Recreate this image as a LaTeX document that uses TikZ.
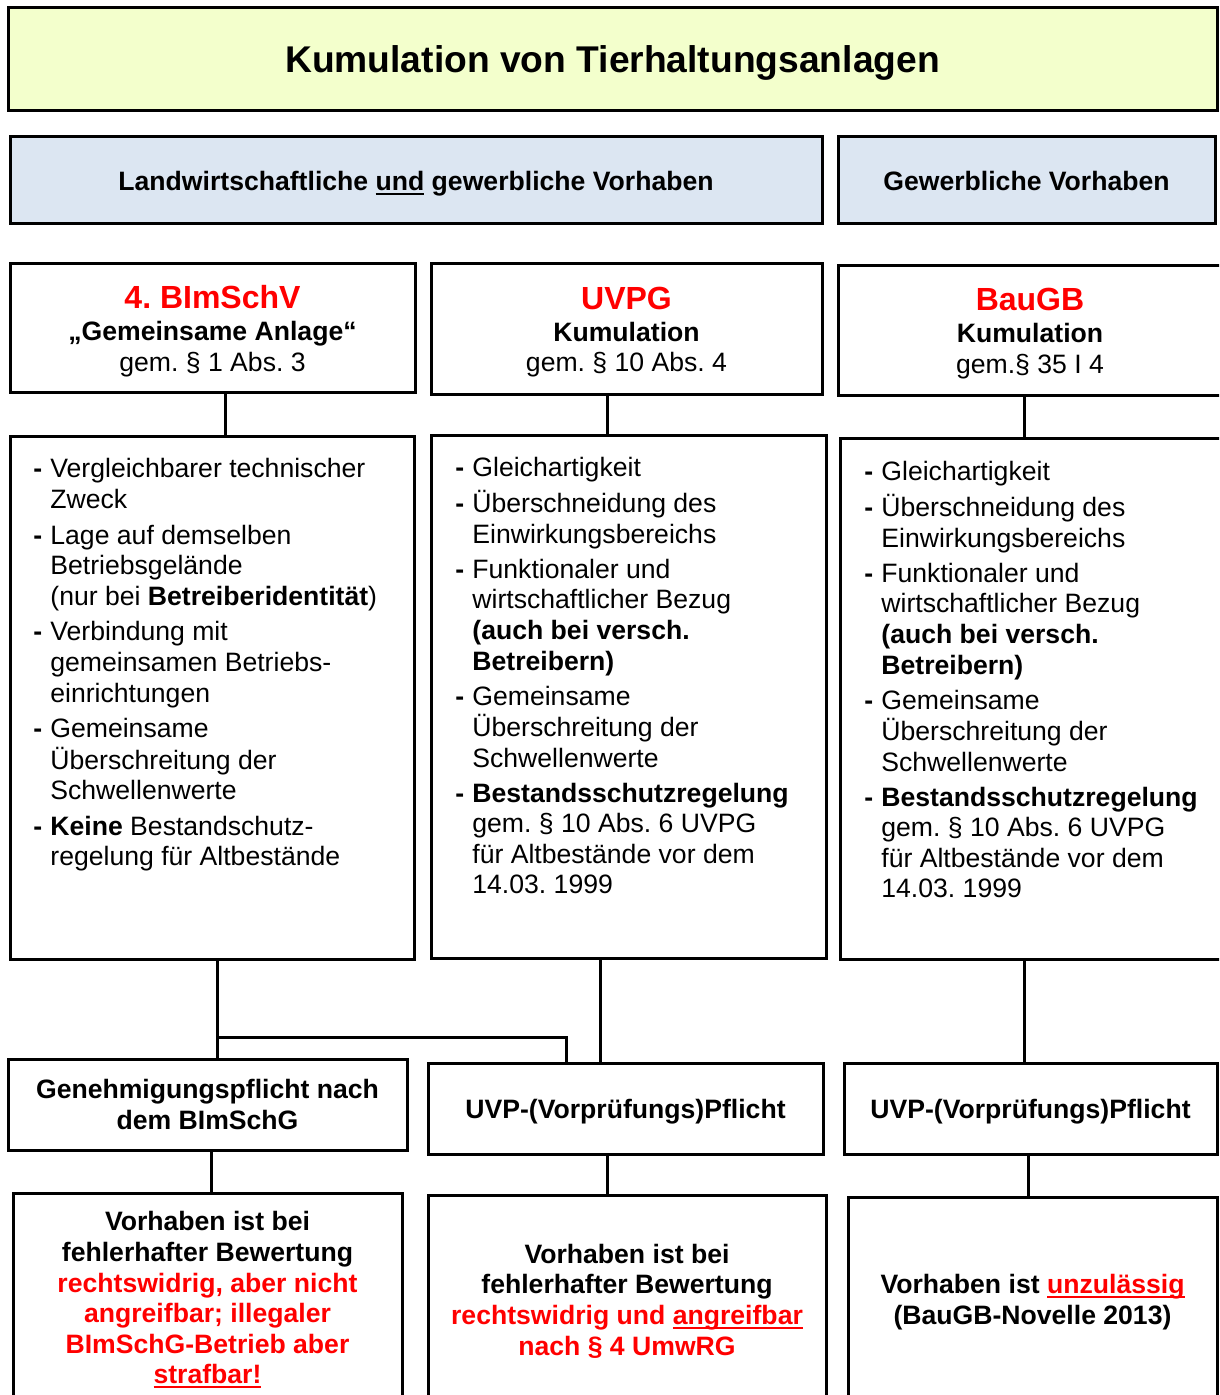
\documentclass[tikz,border=0pt]{standalone}
\usepackage{fontspec}
\setmainfont{Liberation Sans}
\usepackage{array}
\definecolor{titlefill}{RGB}{243,255,204}
\definecolor{headfill}{RGB}{220,230,242}
\newcommand{\redtxt}[1]{\textcolor{red}{#1}}
\newcommand{\normsize}{\fontsize{13.3}{15.3}\selectfont}
\newcommand{\bigsize}{\fontsize{16}{19}\selectfont}
\newcommand{\bul}{\textbf{-}}
\newsavebox{\strichbox}
\newcommand{\ustrich}[1]{\sbox{\strichbox}{#1}\rlap{\rule[-2.2pt]{\wd\strichbox}{1pt}}\usebox{\strichbox}}
\newenvironment{kriterien}{\begin{tabular}{@{}p{8.5pt}@{}l@{}}}{\end{tabular}}
\frenchspacing
\begin{document}
\begin{tikzpicture}[x=0.5pt,y=-0.5pt,
  box/.style={draw,line width=1.5pt,inner sep=0pt,outer sep=0pt,align=center,font=\normsize},
  link/.style={line width=1.5pt},
  liste/.style={anchor=north west,inner sep=0pt,font=\normsize}]
\useasboundingbox (0,0) rectangle (1219,1395);
\clip (0,0) rectangle (1219,1395);
% title and groups
\node[box,fill=titlefill,minimum width=604.5pt,minimum height=51.5pt,text depth=0pt,font=\fontsize{18.6}{22}\selectfont\bfseries] (titel) at (612.5,59.5) {Kumulation von Tierhaltungsanlagen};
\node[box,fill=headfill,minimum width=406pt,minimum height=43.5pt,text depth=0pt,font=\normsize\bfseries] (gruppe1) at (416,180.5) {Landwirtschaftliche \ustrich{und} gewerbliche Vorhaben};
\node[box,fill=headfill,minimum width=188.5pt,minimum height=43.5pt,text depth=0pt,font=\normsize\bfseries] (gruppe2) at (1026.5,180.5) {Gewerbliche Vorhaben};
% legal bases
\node[box,minimum width=202.5pt,minimum height=64.5pt,text depth=0pt] (bimsch) at (212.5,328.5) {{\bigsize\bfseries\color{red}4. BImSchV}\\[0.7pt] \textbf{„Gemeinsame Anlage“}\\ gem. § 1 Abs. 3};
\node[box,minimum width=195.5pt,minimum height=65.5pt,text depth=0pt] (uvpg) at (626.5,329.5) {{\bigsize\bfseries\color{red}UVPG}\\[0.7pt] \textbf{Kumulation}\\ gem. § 10 Abs. 4};
\node[box,minimum width=192pt,minimum height=65pt,text depth=0pt] (baugb) at (1030,331) {{\bigsize\bfseries\color{red}BauGB}\\[0.7pt] \textbf{Kumulation}\\ gem.§ 35 I 4};
% criteria
\node[box,minimum width=202pt,minimum height=261.5pt] (krit1) at (212,697.5) {};
\node[box,minimum width=197.5pt,minimum height=261.5pt] (krit2) at (628.5,696.5) {};
\node[box,minimum width=192pt,minimum height=260.5pt] (krit3) at (1032,698.5) {};
\node[liste] (liste1) at ([shift={(23,20)}]krit1.north west) {\begin{kriterien}
\bul & Vergleichbarer technischer\\
 & Zweck\\[2.5pt]
\bul & Lage auf demselben\\
 & Betriebsgelände\\
 & (nur bei \textbf{Betreiberidentität})\\[2.5pt]
\bul & Verbindung mit\\
 & gemeinsamen Betriebs-\\
 & einrichtungen\\[2.5pt]
\bul & Gemeinsame\\
 & Überschreitung der\\
 & Schwellenwerte\\[2.5pt]
\bul & \textbf{Keine} Bestandschutz-\\
 & regelung für Altbestände
\end{kriterien}};
\node[liste] (liste2) at ([shift={(24,20)}]krit2.north west) {\begin{kriterien}
\bul & Gleichartigkeit\\[2.2pt]
\bul & Überschneidung des\\
 & Einwirkungsbereichs\\[2.2pt]
\bul & Funktionaler und\\
 & wirtschaftlicher Bezug\\
 & \textbf{(auch bei versch.}\\
 & \textbf{Betreibern)}\\[2.2pt]
\bul & Gemeinsame\\
 & Überschreitung der\\
 & Schwellenwerte\\[2.2pt]
\bul & \textbf{Bestandsschutzregelung}\\
 & gem. § 10 Abs. 6 UVPG\\
 & für Altbestände vor dem\\
 & 14.03. 1999
\end{kriterien}};
\node[liste] (liste3) at ([shift={(24,21)}]krit3.north west) {\begin{kriterien}
\bul & Gleichartigkeit\\[2.2pt]
\bul & Überschneidung des\\
 & Einwirkungsbereichs\\[2.2pt]
\bul & Funktionaler und\\
 & wirtschaftlicher Bezug\\
 & \textbf{(auch bei versch.}\\
 & \textbf{Betreibern)}\\[2.2pt]
\bul & Gemeinsame\\
 & Überschreitung der\\
 & Schwellenwerte\\[2.2pt]
\bul & \textbf{Bestandsschutzregelung}\\
 & gem. § 10 Abs. 6 UVPG\\
 & für Altbestände vor dem\\
 & 14.03. 1999
\end{kriterien}};
% obligations
\node[box,minimum width=199.5pt,minimum height=45.5pt,font=\normsize\bfseries] (pflicht1) at (207.5,1104.5) {Genehmigungspflicht nach\\ dem BImSchG};
\node[box,minimum width=197.5pt,minimum height=45.5pt,text depth=0pt,font=\normsize\bfseries] (pflicht2) at (625.5,1108.5) {UVP-(Vorprüfungs)Pflicht};
\node[box,minimum width=186.5pt,minimum height=45.5pt,text depth=0pt,font=\normsize\bfseries] (pflicht3) at (1030.5,1108.5) {UVP-(Vorprüfungs)Pflicht};
% consequences
\node[box,minimum width=194.5pt,minimum height=107pt,font=\normsize\bfseries] (folge1) at (207.5,1300) {Vorhaben ist bei\\ fehlerhafter Bewertung\\ \redtxt{rechtswidrig, aber nicht}\\ \redtxt{angreifbar; illegaler}\\ \redtxt{BImSchG-Betrieb aber}\\ \redtxt{\ustrich{strafbar!}}};
\node[box,minimum width=199pt,minimum height=106pt,font=\normsize\bfseries] (folge2) at (627,1301) {Vorhaben ist bei\\ fehlerhafter Bewertung\\ \redtxt{rechtswidrig und \ustrich{angreifbar}}\\ \redtxt{nach § 4 UmwRG}};
\node[box,minimum width=184.5pt,minimum height=105pt,font=\normsize\bfseries] (folge3) at (1032.5,1302) {Vorhaben ist \redtxt{\ustrich{unzulässig}}\\ (BauGB-Novelle 2013)};
% connectors
\draw[link] ([xshift=6.25pt]bimsch.south) -- ([xshift=6.25pt]bimsch.south |- krit1.north);
\draw[link] ([xshift=-9.75pt]uvpg.south) -- ([xshift=-9.75pt]uvpg.south |- krit2.north);
\draw[link] ([xshift=-3pt]baugb.south) -- ([xshift=-3pt]baugb.south |- krit3.north);
\draw[link] ([xshift=2.5pt]krit1.south) -- ([xshift=2.5pt]krit1.south |- pflicht1.north);
\draw[link] ([xshift=2.5pt]krit1.south) ++(0,78) -| ([xshift=-29.75pt]pflicht2.north);
\draw[link] ([xshift=-14.25pt]krit2.south) -- ([xshift=-14.25pt]krit2.south |- pflicht2.north);
\draw[link] ([xshift=-4pt]krit3.south) -- ([xshift=-4pt]krit3.south |- pflicht3.north);
\draw[link] ([xshift=1.75pt]pflicht1.south) -- ([xshift=1.75pt]pflicht1.south |- folge1.north);
\draw[link] ([xshift=-9.25pt]pflicht2.south) -- ([xshift=-9.25pt]pflicht2.south |- folge2.north);
\draw[link] ([xshift=-1.25pt]pflicht3.south) -- ([xshift=-1.25pt]pflicht3.south |- folge3.north);
\end{tikzpicture}
\end{document}
